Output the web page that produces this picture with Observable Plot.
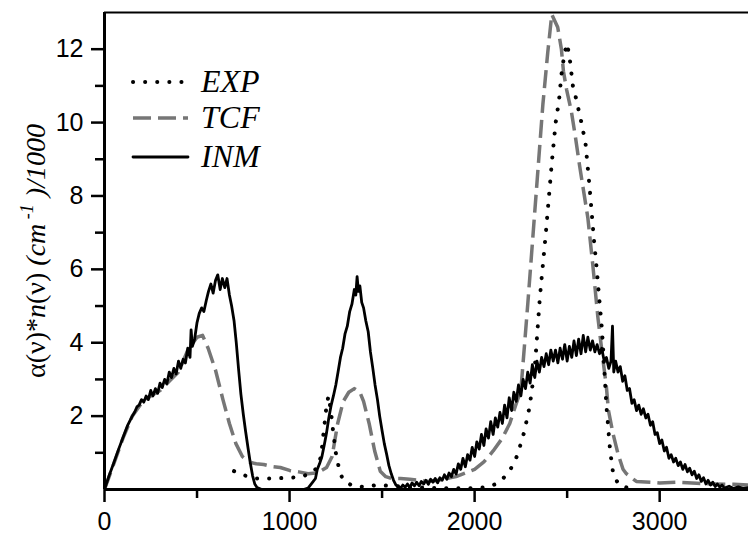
<!DOCTYPE html>
<html><head><meta charset="utf-8">
<script src="https://cdn.jsdelivr.net/npm/d3@7"></script>
<script src="https://cdn.jsdelivr.net/npm/@observablehq/plot@0.6"></script>
<style>body{margin:0;background:#fff} svg{display:block}</style>
</head><body><div id="chart"></div><script>
const xDomain = [0, 3480];
const yDomain = [0, 13];
const xMajor = [0, 1000, 2000, 3000];
const xMinor = [500, 1500, 2500];
const yMajor = [2, 4, 6, 8, 10, 12];
const yMinor = [1, 3, 5, 7, 9, 11];
const seriesNames = ["EXP", "TCF", "INM"];

// EXP (dotted)
const exp = [[700,0.5],[760,0.38],[820,0.3],[900,0.3],[1000,0.32],[1060,0.34],[1120,0.45],[1150,0.6],[1170,0.9],[1185,1.6],[1198,2.2],[1210,2.55],[1222,2.2],[1235,1.6],[1250,1.0],[1270,0.5],[1290,0.25],[1340,0.1],[1400,0.07],[1470,0.12],[1550,0.1],[1650,0.06],[1800,0.04],[1950,0.03],[2063,0.06],[2117,0.15],[2171,0.38],[2207,0.66],[2234,0.97],[2252,1.3],[2270,1.6],[2283,1.93],[2297,2.25],[2325,3.3],[2352,5.2],[2385,7.0],[2417,8.9],[2438,10.0],[2456,10.6],[2469,11.3],[2486,11.9],[2500,12.15],[2515,11.7],[2531,11.0],[2546,10.7],[2573,10.1],[2599,9.45],[2622,8.2],[2645,6.8],[2660,6.0],[2689,4.3],[2712,2.3],[2732,1.07],[2750,0.38],[2784,0.1],[2850,0.02]];

// TCF (dashed grey)
const tcf = [[0,0],[50,0.7],[100,1.4],[150,2.0],[200,2.35],[250,2.55],[300,2.7],[350,2.95],[400,3.2],[450,3.8],[500,4.15],[530,4.2],[560,3.85],[600,3.25],[640,2.45],[675,1.8],[710,1.25],[745,0.9],[780,0.75],[820,0.7],[860,0.68],[900,0.63],[950,0.6],[1000,0.52],[1050,0.48],[1100,0.43],[1150,0.45],[1200,0.6],[1230,0.9],[1260,1.8],[1290,2.4],[1320,2.65],[1350,2.75],[1380,2.65],[1400,2.4],[1430,1.8],[1460,1.05],[1490,0.5],[1520,0.35],[1550,0.3],[1600,0.3],[1650,0.28],[1700,0.25],[1750,0.22],[1800,0.25],[1850,0.3],[1900,0.35],[1950,0.45],[2000,0.55],[2050,0.75],[2100,1.05],[2150,1.4],[2190,1.8],[2222,2.3],[2250,2.7],[2288,5.1],[2315,6.9],[2342,8.7],[2369,10.5],[2395,11.9],[2417,12.95],[2449,12.6],[2469,12.0],[2480,11.4],[2497,10.9],[2523,10.3],[2545,9.6],[2568,8.8],[2612,7.4],[2639,6.1],[2666,4.7],[2687,3.8],[2712,2.8],[2723,2.16],[2748,1.52],[2775,0.97],[2802,0.55],[2820,0.43],[2874,0.22],[2950,0.2],[3000,0.18],[3100,0.2],[3200,0.17],[3300,0.15],[3400,0.14],[3480,0.12]];

// INM (solid black, noisy)
const inm = [[0,0],[25,0.38],[50,0.72],[75,1.08],[100,1.42],[125,1.75],[150,2.0],[162,2.1],[175,2.25],[187,2.3],[200,2.45],[212,2.38],[225,2.55],[237,2.45],[250,2.7],[262,2.55],[275,2.75],[287,2.62],[300,2.9],[312,2.78],[325,3.0],[337,2.88],[350,3.2],[362,3.05],[375,3.3],[387,3.15],[400,3.5],[412,3.3],[425,3.55],[437,3.45],[450,3.85],[462,3.6],[468,4.35],[475,3.9],[487,4.1],[500,4.55],[512,4.8],[525,4.95],[537,4.85],[550,5.15],[562,5.4],[575,5.6],[587,5.35],[600,5.7],[612,5.85],[625,5.45],[637,5.75],[650,5.5],[662,5.75],[675,5.3],[687,5.0],[700,4.6],[712,4.0],[725,3.25],[737,2.6],[750,2.05],[762,1.6],[775,1.15],[787,0.75],[800,0.38],[812,0.15],[825,0.05],[850,0],[1075,0],[1100,0.04],[1125,0.2],[1140,0.3],[1150,0.55],[1162,0.7],[1175,0.9],[1187,1.2],[1200,1.55],[1212,1.95],[1225,2.3],[1237,2.55],[1250,2.85],[1262,3.2],[1275,3.6],[1287,3.85],[1300,4.25],[1312,4.45],[1325,4.85],[1337,5.05],[1350,5.45],[1358,5.3],[1365,5.8],[1372,5.4],[1380,5.55],[1390,5.1],[1400,4.95],[1412,4.6],[1425,4.3],[1437,3.75],[1450,3.3],[1462,2.85],[1475,2.45],[1487,2.0],[1500,1.6],[1512,1.25],[1525,0.95],[1537,0.65],[1550,0.42],[1562,0.25],[1575,0.12],[1600,0.04],[1612,0.12],[1625,0.06],[1637,0.15],[1650,0.05],[1662,0.18],[1675,0.1],[1687,0.2],[1700,0.1],[1712,0.22],[1725,0.15],[1737,0.25],[1750,0.14],[1762,0.28],[1775,0.2],[1787,0.3],[1800,0.18],[1812,0.32],[1825,0.25],[1837,0.4],[1850,0.28],[1862,0.45],[1875,0.35],[1887,0.55],[1900,0.42],[1912,0.7],[1925,0.55],[1937,0.85],[1950,0.62],[1962,0.95],[1975,0.8],[1987,1.15],[2000,0.9],[2012,1.3],[2025,1.1],[2037,1.5],[2050,1.2],[2062,1.65],[2075,1.4],[2087,1.85],[2100,1.5],[2112,1.95],[2125,1.7],[2137,2.1],[2150,1.8],[2162,2.3],[2175,1.95],[2187,2.5],[2200,2.15],[2212,2.65],[2225,2.4],[2237,2.85],[2250,2.55],[2262,3.0],[2275,2.75],[2287,3.2],[2300,2.9],[2312,3.4],[2325,3.05],[2337,3.5],[2350,3.2],[2362,3.6],[2375,3.35],[2387,3.7],[2400,3.4],[2412,3.8],[2425,3.5],[2437,3.8],[2450,3.45],[2462,3.85],[2475,3.55],[2487,3.95],[2500,3.5],[2512,3.9],[2525,3.6],[2537,4.05],[2550,3.65],[2562,4.1],[2575,3.7],[2587,4.2],[2600,3.75],[2612,4.15],[2625,3.8],[2637,4.05],[2650,3.75],[2662,3.95],[2675,3.7],[2687,3.85],[2700,3.5],[2712,3.6],[2725,3.3],[2737,3.5],[2745,4.45],[2752,3.2],[2762,3.5],[2775,3.2],[2787,3.35],[2800,2.95],[2812,3.1],[2825,2.7],[2837,2.75],[2850,2.35],[2862,2.45],[2875,2.15],[2887,2.3],[2900,2.05],[2912,2.2],[2925,1.95],[2937,2.05],[2950,1.75],[2962,1.85],[2975,1.5],[2987,1.55],[3000,1.25],[3012,1.35],[3025,1.05],[3037,1.15],[3050,0.85],[3062,0.95],[3075,0.75],[3087,0.85],[3100,0.65],[3112,0.75],[3125,0.55],[3137,0.68],[3150,0.48],[3162,0.58],[3175,0.4],[3187,0.5],[3200,0.3],[3212,0.4],[3225,0.22],[3237,0.32],[3250,0.15],[3262,0.25],[3275,0.12],[3287,0.2],[3300,0.08],[3312,0.15],[3325,0.06],[3337,0.12],[3350,0.04],[3375,0.09],[3400,0.03],[3425,0.07],[3450,0.03],[3480,0.05]];

const toRows = arr => arr.map(([x, y]) => ({x, y}));

const styles = {
  EXP: {stroke: "#000", strokeWidth: 4, strokeDasharray: "0.1,12", strokeLinecap: "round"},
  TCF: {stroke: "#767676", strokeWidth: 3.5, strokeDasharray: "18,7", strokeLinecap: "butt"},
  INM: {stroke: "#000", strokeWidth: 2.8, strokeDasharray: null, strokeLinecap: "round"}
};

const plot = Plot.plot({
  width: 748, height: 537,
  marginLeft: 104, marginRight: 0, marginTop: 12, marginBottom: 48,
  x: {domain: xDomain, label: null},
  y: {domain: yDomain, label: null},
  style: {fontFamily: "'Liberation Sans', Arial, sans-serif", fontSize: "25px", color: "#000", background: "#fff"},
  marks: [
    Plot.axisX({ticks: xMinor, tickSize: 9, strokeWidth: 2.5, tickFormat: () => ""}),
    Plot.axisX({ticks: xMajor, tickSize: 13, tickPadding: 10, strokeWidth: 2.5, tickFormat: d => String(d)}),
    Plot.axisY({ticks: yMinor, tickSize: 9, strokeWidth: 2.5, tickFormat: () => ""}),
    Plot.axisY({ticks: yMajor, tickSize: 13, tickPadding: 8, strokeWidth: 2.5, tickFormat: d => String(d)}),
    Plot.line(toRows(tcf), {x: "x", y: "y", clip: true, ...styles.TCF}),
    Plot.line(toRows(exp), {x: "x", y: "y", clip: true, ...styles.EXP}),
    Plot.line(toRows(inm), {x: "x", y: "y", clip: true, strokeLinejoin: "round", ...styles.INM}),
    Plot.ruleY([yDomain[0]], {strokeWidth: 3}),
    Plot.ruleY([yDomain[1]], {strokeWidth: 2.2}),
    Plot.ruleX([xDomain[0]], {strokeWidth: 3})
  ]
});

const svg = d3.select(plot);

// Y axis title with mixed styles
const t = svg.append("text")
  .attr("transform", "translate(45,251) rotate(-90)")
  .attr("text-anchor", "middle")
  .attr("font-family", "'Liberation Serif', 'Times New Roman', serif")
  .attr("font-size", 28)
  .attr("fill", "#000");
t.append("tspan").text("α(ν)*");
t.append("tspan").attr("font-style", "italic").text("n");
t.append("tspan").text("(ν) ");
t.append("tspan").attr("font-style", "italic").text("(cm");
t.append("tspan").attr("font-style", "italic").attr("font-size", 18).attr("dy", -12).text(" -1");
t.append("tspan").attr("font-style", "italic").attr("dy", 12).text(" )/1000");

// Legend
const legend = svg.append("g").attr("text-anchor", "start");
const legendRowY = [82, 118, 157];
const legendTextY = [92, 128, 167];
seriesNames.forEach((name, i) => {
  const s = styles[name];
  legend.append("line")
    .attr("x1", 133).attr("x2", 188)
    .attr("y1", legendRowY[i]).attr("y2", legendRowY[i])
    .attr("stroke", s.stroke).attr("stroke-width", s.strokeWidth)
    .attr("stroke-dasharray", s.strokeDasharray)
    .attr("stroke-linecap", s.strokeLinecap);
  legend.append("text")
    .attr("x", 201).attr("y", legendTextY[i])
    .attr("text-anchor", "start")
    .attr("font-family", "'Liberation Serif', 'Times New Roman', serif")
    .attr("font-style", "italic").attr("font-size", 32)
    .attr("fill", "#000")
    .text(name);
});

document.getElementById("chart").appendChild(plot);
</script></body></html>
